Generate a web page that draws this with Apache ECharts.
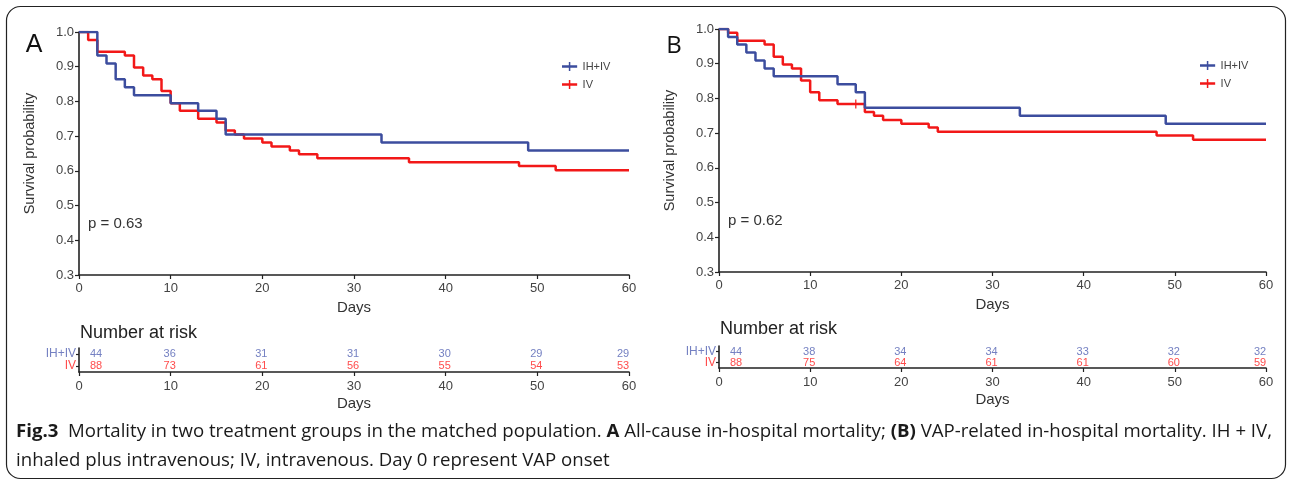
<!DOCTYPE html>
<html><head><meta charset="utf-8">
<script src="https://cdn.jsdelivr.net/npm/echarts@6/dist/echarts.min.js"></script>
<style>html,body{margin:0;padding:0;background:#fff}#c{width:1290px;height:482px}</style>
</head><body><div id="c"></div>
<script>
// ---- data ----
const groups = ['IH+IV', 'IV'];
const dayTicks = [0, 10, 20, 30, 40, 50, 60];
// Panel A: all-cause in-hospital mortality
const timesA_ihiv = [0, 2, 3, 4, 5, 6, 10, 13, 15, 16, 33, 49, 60];
const survA_ihiv  = [1, 0.932, 0.909, 0.864, 0.841, 0.818, 0.795, 0.773, 0.750, 0.705, 0.682, 0.659, 0.659];
const timesA_iv   = [0, 1, 2, 5, 6, 7, 8, 9, 10, 11, 13, 15, 16, 17, 18, 20, 21, 23, 24, 26, 36, 48, 52, 60];
const survA_iv    = [1, 0.977, 0.943, 0.932, 0.898, 0.875, 0.864, 0.830, 0.795, 0.773, 0.750, 0.739, 0.716, 0.705, 0.693, 0.682, 0.670, 0.659, 0.648, 0.636, 0.625, 0.614, 0.602, 0.602];
// Panel B: VAP-related in-hospital mortality
const timesB_ihiv = [0, 1, 2, 3, 4, 5, 6, 13, 15, 16, 33, 49, 60];
const survB_ihiv  = [1, 0.977, 0.955, 0.932, 0.909, 0.886, 0.864, 0.841, 0.818, 0.773, 0.750, 0.727, 0.727];
const timesB_iv   = [0, 1, 2, 5, 6, 7, 8, 9, 10, 11, 13, 16, 17, 18, 20, 23, 24, 48, 52, 60];
const survB_iv    = [1, 0.989, 0.966, 0.955, 0.920, 0.898, 0.886, 0.852, 0.818, 0.795, 0.784, 0.761, 0.750, 0.738, 0.727, 0.716, 0.704, 0.693, 0.681, 0.681];
const censorB_iv_t = [15];
const censorB_iv_s = [0.784];
// Numbers at risk
const riskA_ihiv = [44, 36, 31, 31, 30, 29, 29];
const riskA_iv   = [88, 73, 61, 56, 55, 54, 53];
const riskB_ihiv = [44, 38, 34, 34, 33, 32, 32];
const riskB_iv   = [88, 75, 64, 61, 61, 60, 59];
const pValues = ['p = 0.63', 'p = 0.62'];
const panelLetters = ['A', 'B'];

// ---- styles ----
const BLUE = '#3c4d9e', RED = '#f21818';
const BLUE_T = '#7480c2', RED_T = '#ff4c4c';
const AX = '#222';
const FONT = '"Liberation Sans", Arial, sans-serif';

function pairs(t, s) { return t.map((x, i) => [x, s[i]]); }

function mainX(gi, nameGap, margin) {
  return {
    type: 'value', gridIndex: gi, min: 0, max: 60, interval: 10,
    axisLine: { show: true, onZero: false, lineStyle: { color: AX, width: 1.6 } },
    axisTick: { show: true, length: 4, lineStyle: { color: AX, width: 1.2 } },
    axisLabel: { fontSize: 13, color: '#444', fontFamily: FONT, margin: margin },
    splitLine: { show: false },
    name: 'Days', nameLocation: 'middle', nameGap: nameGap,
    nameTextStyle: { fontSize: 15, color: '#333', fontFamily: FONT }
  };
}
function mainY(gi) {
  return {
    type: 'value', gridIndex: gi, min: 0.3, max: 1.0, interval: 0.1,
    axisLine: { show: true, onZero: false, lineStyle: { color: AX, width: 1.6 } },
    axisTick: { show: true, length: 4, lineStyle: { color: AX, width: 1.2 } },
    axisLabel: { fontSize: 13, color: '#444', fontFamily: FONT, margin: 5, formatter: v => v.toFixed(1) },
    splitLine: { show: false },
    name: 'Survival probability', nameLocation: 'middle', nameRotate: 90, nameGap: 42,
    nameTextStyle: { fontSize: 14.5, color: '#333', fontFamily: FONT }
  };
}
function riskY(gi) {
  return {
    type: 'category', gridIndex: gi,
    data: [
      { value: groups[1], textStyle: { color: RED_T } },
      { value: groups[0], textStyle: { color: BLUE_T } }
    ],
    axisLine: { show: true, onZero: false, lineStyle: { color: AX, width: 1.6 } },
    axisTick: { show: true, alignWithLabel: true, interval: 0, length: 3, lineStyle: { color: AX, width: 1.2 } },
    axisLabel: { fontSize: 12, fontFamily: FONT, margin: 3, interval: 0 },
    splitLine: { show: false }
  };
}
function stepSeries(name, xi, t, s, color) {
  return {
    type: 'line', name: name, xAxisIndex: xi, yAxisIndex: xi, step: 'end',
    data: pairs(t, s), showSymbol: false, symbol: 'none',
    lineStyle: { color: color, width: 2.5 }, itemStyle: { color: color },
    z: name === 'IV' ? 3 : 4, animation: false
  };
}
function riskSeries(name, xi, counts, color) {
  const row = name === groups[0] ? 1 : 0;
  const last = counts.length - 1;
  return {
    type: 'custom', name: name + ' risk', xAxisIndex: xi, yAxisIndex: xi,
    silent: true, animation: false, clip: false,
    data: counts.map((n, i) => [dayTicks[i], row, n, i]),
    renderItem: (params, api) => {
      const p = api.coord([api.value(0), api.value(1)]);
      const i = api.value(3);
      const dx = i === 0 ? 17 : (i === last ? -6 : -1);
      return {
        type: 'text', x: p[0] + dx, y: p[1],
        style: { text: String(api.value(2)), fill: color, fontSize: 11, fontFamily: FONT, align: 'center', verticalAlign: 'middle' }
      };
    }
  };
}
const PLUS = 'path://M0,3.5h16v2.5h-16z M7.2,0h1.6v9.5h-1.6z';
function legendAt(left, top) {
  return {
    left: left, top: top, orient: 'vertical', itemGap: 7, itemWidth: 16, itemHeight: 9,
    icon: PLUS, data: groups, selectedMode: false,
    textStyle: { fontSize: 11, color: '#444', fontFamily: FONT, padding: [0, 0, 0, 0] }
  };
}

// ---- caption ----
const capSize = 17.5, capFont = '"Open Sans", sans-serif';
const cap1 = [['Fig.3', 1], ['  Mortality in two treatment groups in the matched population. ', 0], ['A', 1], [' All-cause in-hospital mortality; ', 0], ['(B)', 1], [' VAP-related in-hospital mortality. IH + IV,', 0]];
const cap2 = [['inhaled plus intravenous; IV, intravenous. Day 0 represent VAP onset', 0]];
const mctx = document.createElement('canvas').getContext('2d');
function natWidth(segs) {
  let w = 0;
  segs.forEach(([t, b]) => { mctx.font = (b ? 'bold ' : '') + capSize + 'px ' + capFont; w += mctx.measureText(t).width; });
  return w;
}
const capScale = 1256 / natWidth(cap1);
function richText(segs) { return segs.map(([t, b]) => b ? '{b|' + t + '}' : '{n|' + t + '}').join(''); }
const capRich = {
  b: { fontWeight: 'bold', fontSize: capSize, fontFamily: capFont, fill: '#1a1a1a' },
  n: { fontSize: capSize, fontFamily: capFont, fill: '#1a1a1a' }
};

const chart = echarts.init(document.getElementById('c'), null, { renderer: 'canvas' });
chart.setOption({
  animation: false,
  backgroundColor: '#fff',
  grid: [
    { left: 79, top: 32, width: 550, height: 243 },
    { left: 719, top: 29, width: 547, height: 243 },
    { left: 79, top: 348, width: 550, height: 24 },
    { left: 719, top: 346, width: 547, height: 22 }
  ],
  xAxis: [mainX(0, 21, 7), mainX(1, 17, 7), mainX(2, 24, 8), mainX(3, 24, 8)],
  yAxis: [mainY(0), mainY(1), riskY(2), riskY(3)],
  legend: [legendAt(557, 56), legendAt(1195, 55)],
  series: [
    stepSeries('IH+IV', 0, timesA_ihiv, survA_ihiv, BLUE),
    stepSeries('IV', 0, timesA_iv, survA_iv, RED),
    stepSeries('IH+IV', 1, timesB_ihiv, survB_ihiv, BLUE),
    stepSeries('IV', 1, timesB_iv, survB_iv, RED),
    {
      type: 'scatter', name: 'IV censor', xAxisIndex: 1, yAxisIndex: 1, silent: true,
      symbol: 'path://M0,0h2v10h-2z', symbolSize: [1.5, 9], itemStyle: { color: RED },
      data: pairs(censorB_iv_t, censorB_iv_s), z: 5
    },
    riskSeries('IH+IV', 2, riskA_ihiv, BLUE_T),
    riskSeries('IV', 2, riskA_iv, RED_T),
    riskSeries('IH+IV', 3, riskB_ihiv, BLUE_T),
    riskSeries('IV', 3, riskB_iv, RED_T)
  ],
  graphic: [
    { type: 'rect', shape: { x: 6.5, y: 6.5, width: 1279, height: 472, r: 14 }, style: { fill: 'none', stroke: '#222', lineWidth: 1.2 }, silent: true },
    { type: 'text', x: 34, y: 45, style: { text: panelLetters[0], fontSize: 25, fontFamily: FONT, fill: '#111', align: 'center', verticalAlign: 'middle' } },
    { type: 'text', x: 674, y: 46, style: { text: panelLetters[1], fontSize: 24, fontFamily: '"Open Sans", sans-serif', fill: '#111', align: 'center', verticalAlign: 'middle' } },
    { type: 'text', x: 88, y: 224, style: { text: pValues[0], fontSize: 15, fontFamily: FONT, fill: '#333', verticalAlign: 'middle' } },
    { type: 'text', x: 728, y: 221, style: { text: pValues[1], fontSize: 15, fontFamily: FONT, fill: '#333', verticalAlign: 'middle' } },
    { type: 'text', x: 80, y: 333, style: { text: 'Number at risk', fontSize: 18, fontFamily: FONT, fill: '#222', verticalAlign: 'middle' } },
    { type: 'text', x: 720, y: 329, style: { text: 'Number at risk', fontSize: 18, fontFamily: FONT, fill: '#222', verticalAlign: 'middle' } },
    { type: 'text', x: 16, y: 432, scaleX: capScale, style: { text: richText(cap1), rich: capRich, fontSize: capSize, fontFamily: capFont, verticalAlign: 'middle' } },
    { type: 'text', x: 16, y: 461, scaleX: capScale, style: { text: richText(cap2), rich: capRich, fontSize: capSize, fontFamily: capFont, verticalAlign: 'middle' } }
  ]
});
</script></body></html>
